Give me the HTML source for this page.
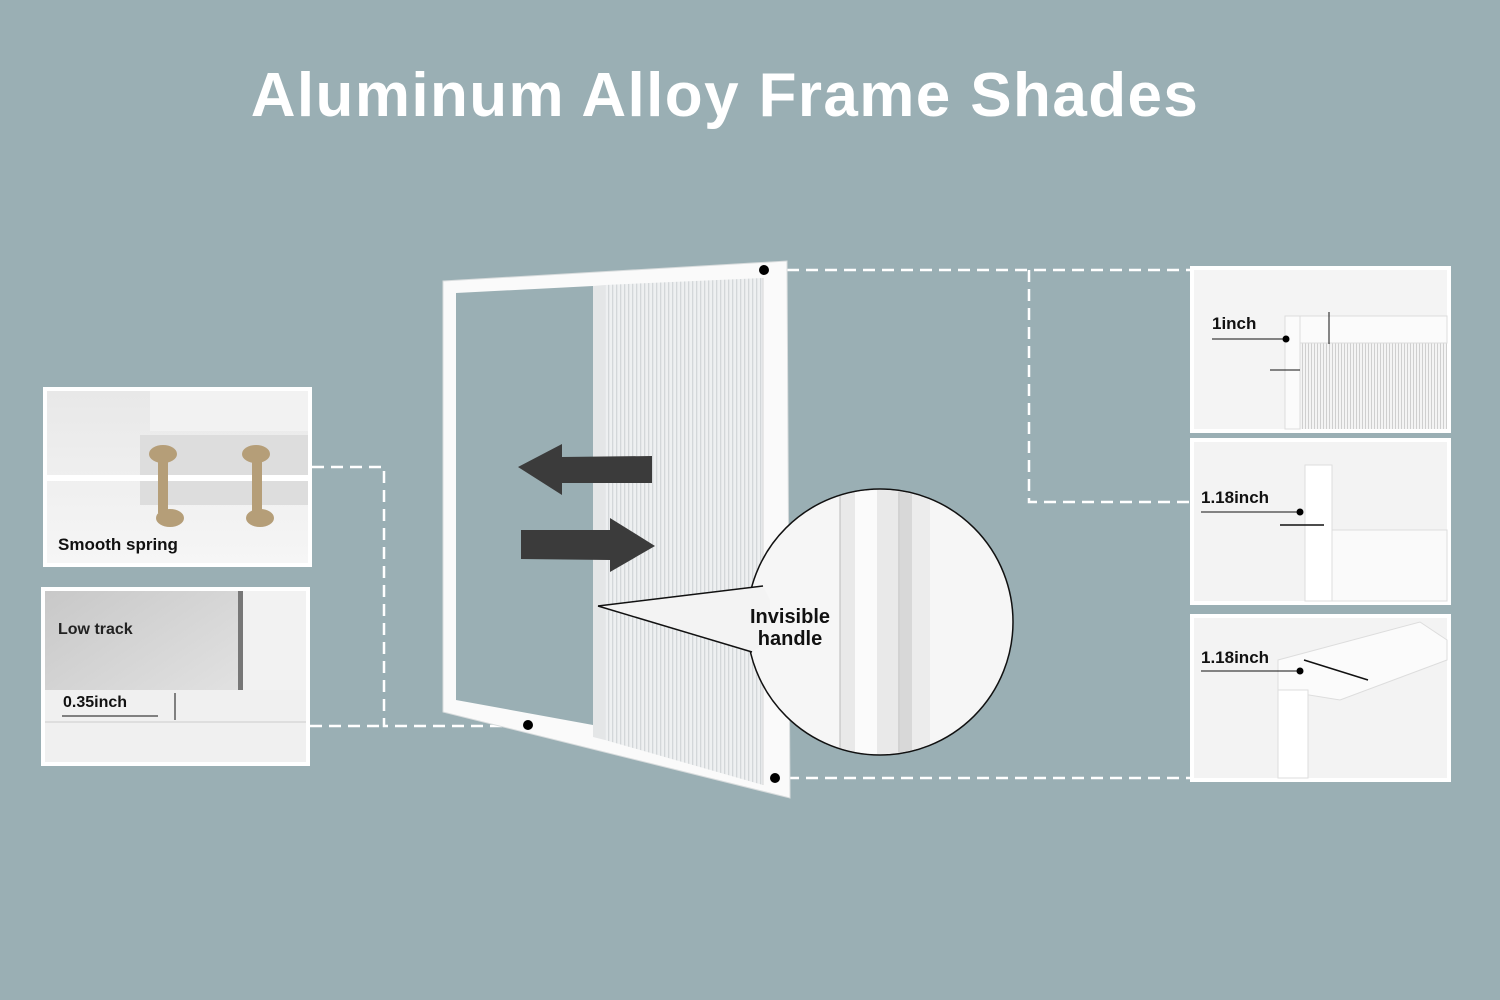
<!DOCTYPE html>
<html><head><style>
html,body{margin:0;padding:0;background:#9aafb4;}
svg{display:block;font-family:"Liberation Sans",Arial,sans-serif;}
</style></head><body>
<svg width="1500" height="1000" viewBox="0 0 1500 1000" xmlns="http://www.w3.org/2000/svg">
<defs>
<pattern id="pl" width="4" height="10" patternUnits="userSpaceOnUse">
<rect width="4" height="10" fill="#eef0f1"/><rect width="1.3" height="10" fill="#d3d7d9"/>
</pattern>
<pattern id="pl2" width="3" height="10" patternUnits="userSpaceOnUse">
<rect width="3" height="10" fill="#f4f4f4"/><rect width="1" height="10" fill="#cfcfcf"/>
</pattern>
<linearGradient id="lt" x1="0" y1="0" x2="1" y2="1"><stop offset="0" stop-color="#c8c8c8"/><stop offset="1" stop-color="#eeeeee"/></linearGradient>
<linearGradient id="sp" x1="0" y1="0" x2="0" y2="1"><stop offset="0" stop-color="#e8e8e8"/><stop offset="1" stop-color="#f6f6f6"/></linearGradient>
</defs>
<rect width="1500" height="1000" fill="#9aafb4"/>
<text x="725" y="116" text-anchor="middle" font-size="62" font-weight="bold" fill="#fff" letter-spacing="1.4">Aluminum Alloy Frame Shades</text>

<g stroke="#fff" stroke-width="2.5" stroke-dasharray="12,7" fill="none">
<path d="M312,467 H384 V726 H528"/>
<path d="M310,726 H384"/>
<path d="M787,270 H1190"/>
<path d="M1029,270 V502 H1190"/>
<path d="M787,778 H1190"/>
</g>

<polygon points="443,281 787,261 790,798 443,712" fill="#fafafa"/>
<polygon points="456,293 593,286 593,725 456,700" fill="#9aafb4"/>
<polygon points="605,285 763,278 763,785 605,740" fill="url(#pl)"/>
<polygon points="593,286 605,285 605,740 593,737" fill="#e4e6e7"/>
<line x1="763" y1="278" x2="763" y2="785" stroke="#d6d6d6"/>
<polygon points="443,281 787,261 790,798 443,712" fill="none" stroke="#d8dcdd" stroke-width="1"/>

<polygon points="518,467 562,444 562,457 652,456 652,483 562,483 562,495" fill="#3b3b3b"/>
<polygon points="521,530 610,530 610,518 655,546 610,572 610,560 521,559" fill="#3b3b3b"/>

<circle cx="880" cy="622" r="133" fill="#f6f6f6" stroke="#111" stroke-width="1.5"/>
<clipPath id="cc"><circle cx="880" cy="622" r="132"/></clipPath>
<g clip-path="url(#cc)">
<rect x="840" y="480" width="60" height="290" fill="#e9e9e9"/>
<rect x="855" y="480" width="22" height="290" fill="#fbfbfb"/>
<rect x="900" y="480" width="12" height="290" fill="#d8d8d8"/>
<rect x="912" y="480" width="18" height="290" fill="#ececec"/>
<line x1="840" y1="480" x2="840" y2="770" stroke="#bbb"/>
<line x1="899" y1="480" x2="899" y2="770" stroke="#bbb"/>
</g>
<polygon points="598,606 763,586 770,600 770,640 752,652" fill="#f3f3f3"/>
<line x1="598" y1="606" x2="763" y2="586" stroke="#111" stroke-width="1.5"/>
<line x1="598" y1="606" x2="752" y2="652" stroke="#111" stroke-width="1.5"/>
<text x="790" y="623" text-anchor="middle" font-size="20" font-weight="bold" fill="#111">Invisible</text>
<text x="790" y="645" text-anchor="middle" font-size="20" font-weight="bold" fill="#111">handle</text>

<g fill="#000"><circle cx="764" cy="270" r="5"/><circle cx="528" cy="725" r="5"/><circle cx="775" cy="778" r="5"/></g>

<rect x="43" y="387" width="269" height="180" fill="#fff"/>
<rect x="47" y="391" width="261" height="172" fill="url(#sp)"/>
<rect x="150" y="391" width="158" height="40" fill="#f2f2f2"/>
<rect x="140" y="435" width="168" height="70" fill="#ddd"/>
<rect x="47" y="475" width="261" height="6" fill="#fff"/>
<g fill="#b59e78"><ellipse cx="163" cy="454" rx="14" ry="9"/><ellipse cx="256" cy="454" rx="14" ry="9"/><ellipse cx="170" cy="518" rx="14" ry="9"/><ellipse cx="260" cy="518" rx="14" ry="9"/><rect x="158" y="458" width="10" height="55"/><rect x="252" y="458" width="10" height="55"/></g>
<text x="58" y="550" font-size="17" font-weight="bold" fill="#111">Smooth spring</text>

<rect x="41" y="587" width="269" height="179" fill="#fff"/>
<rect x="45" y="591" width="261" height="171" fill="url(#lt)"/>
<rect x="238" y="591" width="68" height="100" fill="#f2f2f2"/>
<rect x="238" y="591" width="5" height="100" fill="#777"/>
<rect x="45" y="690" width="261" height="72" fill="#f0f0f0"/>
<line x1="45" y1="722" x2="306" y2="722" stroke="#ccc"/>
<text x="58" y="634" font-size="16" font-weight="bold" fill="#222">Low track</text>
<text x="63" y="707" font-size="16" font-weight="bold" fill="#111">0.35inch</text>
<line x1="62" y1="716" x2="158" y2="716" stroke="#111"/>
<line x1="175" y1="693" x2="175" y2="720" stroke="#111"/>

<rect x="1190" y="266" width="261" height="167" fill="#fff"/>
<rect x="1194" y="270" width="253" height="159" fill="#f4f4f4"/>
<rect x="1300" y="343" width="147" height="86" fill="url(#pl2)"/>
<rect x="1285" y="316" width="162" height="27" fill="#fbfbfb" stroke="#ddd"/>
<rect x="1285" y="316" width="15" height="113" fill="#fbfbfb" stroke="#ddd"/>
<text x="1212" y="329" font-size="17" font-weight="bold" fill="#111">1inch</text>
<line x1="1212" y1="339" x2="1286" y2="339" stroke="#111"/><circle cx="1286" cy="339" r="3.5"/>
<line x1="1329" y1="312" x2="1329" y2="344" stroke="#111"/>
<line x1="1270" y1="370" x2="1300" y2="370" stroke="#111"/>

<rect x="1190" y="438" width="261" height="167" fill="#fff"/>
<rect x="1194" y="442" width="253" height="159" fill="#f3f3f3"/>
<rect x="1305" y="465" width="27" height="136" fill="#fff" stroke="#ddd"/>
<rect x="1332" y="530" width="115" height="71" fill="#fafafa" stroke="#ddd"/>
<text x="1201" y="503" font-size="17" font-weight="bold" fill="#111">1.18inch</text>
<line x1="1201" y1="512" x2="1300" y2="512" stroke="#111"/><circle cx="1300" cy="512" r="3.5"/>
<line x1="1280" y1="525" x2="1324" y2="525" stroke="#111" stroke-width="1.5"/>

<rect x="1190" y="614" width="261" height="168" fill="#fff"/>
<rect x="1194" y="618" width="253" height="160" fill="#f3f3f3"/>
<polygon points="1278,660 1420,622 1447,640 1447,660 1340,700 1278,690" fill="#fbfbfb" stroke="#ddd"/>
<rect x="1278" y="690" width="30" height="88" fill="#fff" stroke="#ddd"/>
<text x="1201" y="663" font-size="17" font-weight="bold" fill="#111">1.18inch</text>
<line x1="1201" y1="671" x2="1300" y2="671" stroke="#111"/><circle cx="1300" cy="671" r="3.5"/>
<line x1="1304" y1="660" x2="1368" y2="680" stroke="#111" stroke-width="1.5"/>
</svg>
</body></html>
